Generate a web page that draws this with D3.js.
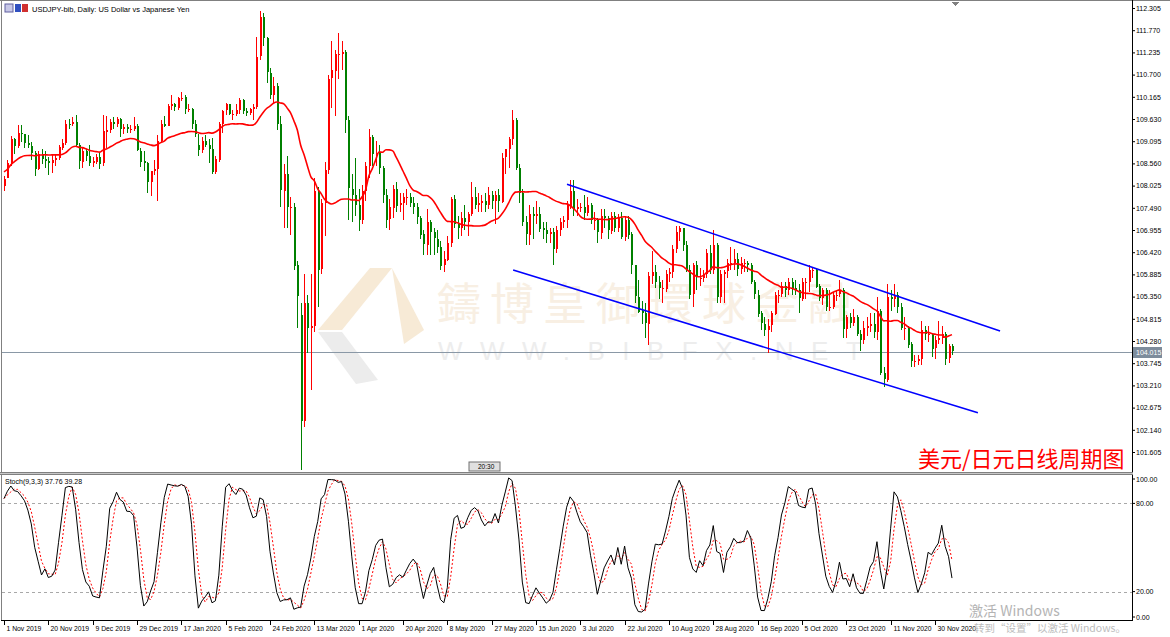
<!DOCTYPE html>
<html>
<head>
<meta charset="utf-8">
<script src="https://cdn.jsdelivr.net/npm/d3@7"></script>
<style>
body { margin: 0; background: #fff; }
svg { display: block; font-family: "Liberation Sans", Arial, sans-serif; }
</style>
</head>
<body>
<svg id="chart" width="1170" height="637"></svg>
<script>
// closes before the first visible bar, only used to start the 20 bar average
var priorCloses = [107.25,107.1,107.5,107.95,108.3,108.4,108.85,108.75,108.65,108.45,108.6,108.5,108.7,108.6,108.65,108.95,108.85,108.8,108.05];

// daily bars [open, high, low, close]
var bars = [
	// nov 2019
	[108.02,108.25,107.89,108.19],[108.20,108.64,108.20,108.57],[108.57,109.23,108.50,109.16],[109.16,109.18,108.78,108.98],
	[108.98,109.48,108.93,109.29],[109.29,109.49,109.08,109.26],[109.26,109.28,108.94,109.04],[109.04,109.24,108.94,108.99],
	[108.99,109.07,108.65,108.81],[108.81,108.86,108.25,108.43],[108.43,108.87,108.39,108.78],[108.78,108.90,108.55,108.67],
	[108.67,108.85,108.45,108.62],[108.62,108.72,108.28,108.56],[108.56,108.77,108.32,108.64],[108.64,108.78,108.50,108.68],
	[108.68,109.00,108.64,108.95],[108.95,109.14,108.88,109.06],[109.06,109.60,109.00,109.52],[109.52,109.63,109.40,109.49],
	[109.49,109.69,109.45,109.55],
	// dec 2019
	[109.55,109.73,108.95,109.00],[109.00,109.05,108.42,108.61],[108.61,108.95,108.45,108.87],[108.87,108.90,108.62,108.75],
	[108.75,109.00,108.50,108.57],[108.57,108.72,108.48,108.61],[108.61,108.79,108.55,108.72],[108.72,108.84,108.43,108.55],
	[108.55,109.72,108.50,109.33],[109.33,109.70,108.93,109.37],[109.37,109.62,109.30,109.56],[109.56,109.68,109.39,109.50],
	[109.50,109.68,109.44,109.62],[109.62,109.65,109.20,109.37],[109.37,109.52,109.28,109.43],[109.43,109.51,109.30,109.38],
	[109.38,109.48,109.30,109.38],[109.38,109.68,109.35,109.45],[109.45,109.50,108.85,108.87],[108.87,108.92,108.47,108.61],
	// jan 2020
	[108.61,108.85,108.38,108.56],[108.56,108.60,107.85,108.10],[108.10,108.30,107.77,108.37],[108.37,108.63,108.27,108.43],
	[108.43,109.25,107.65,109.11],[109.11,109.60,109.05,109.52],[109.52,109.70,109.43,109.46],[109.46,109.98,109.45,109.94],
	[109.94,110.22,109.84,109.98],[109.98,110.01,109.82,109.90],[109.90,110.15,109.85,110.14],[110.14,110.29,110.07,110.14],
	[110.16,110.20,109.76,109.87],[109.87,110.00,109.80,109.87],[109.87,109.90,109.40,109.50],[109.50,109.60,109.20,109.27],
	[109.00,109.28,108.73,108.87],[108.87,109.20,108.82,109.09],[109.09,109.25,108.95,109.00],[109.00,109.14,108.57,108.90],
	[108.90,109.18,108.31,108.35],
	// feb 2020
	[108.35,108.75,108.30,108.66],[108.66,109.55,108.60,109.52],[109.52,109.85,109.30,109.83],[109.83,110.02,109.73,109.98],
	[109.98,110.00,109.72,109.75],[109.75,109.85,109.60,109.75],[109.75,110.00,109.70,109.84],[109.84,110.14,109.76,110.08],
	[110.08,110.10,109.75,109.82],[109.82,109.90,109.70,109.77],[109.77,109.90,109.72,109.86],[109.86,110.00,109.60,109.92],
	[109.92,111.60,109.88,111.13],[111.13,112.23,111.05,112.08],[112.08,112.18,111.40,111.58],[111.58,111.60,110.50,110.75],
	[110.75,110.86,110.10,110.21],[110.21,110.65,110.00,110.42],[110.42,110.50,109.36,109.50],[109.50,109.70,107.50,107.90],
	// mar 2020
	[107.90,108.55,107.00,108.30],[108.30,108.75,107.00,107.50],[107.50,107.75,106.83,107.52],[107.52,107.60,106.00,106.10],
	[106.10,106.20,104.60,105.35],[104.90,105.20,101.18,102.35],[102.35,105.90,102.20,105.20],[105.20,105.40,103.98,104.60],
	[104.60,105.90,103.10,104.65],[104.65,108.20,104.50,107.90],[107.90,108.00,105.10,106.00],[106.00,107.70,105.90,107.60],
	[107.60,108.60,106.80,108.40],[108.40,110.70,108.30,110.60],[110.60,111.50,109.90,110.80],[110.80,111.30,109.70,111.20],
	[111.20,111.70,110.60,111.20],[111.20,111.50,110.80,111.25],[111.25,111.30,109.30,109.60],[109.60,109.70,107.20,107.95],
	[107.95,108.30,107.15,107.80],[107.80,108.70,107.30,107.55],
	// apr 2020
	[107.55,107.95,106.92,107.20],[107.20,108.05,107.10,107.90],[107.90,108.60,107.65,108.50],[108.50,109.38,108.20,109.20],
	[109.20,109.25,108.50,108.80],[108.80,109.10,108.50,108.80],[108.80,109.00,108.30,108.45],[108.45,108.50,107.60,107.80],
	[107.80,107.95,107.00,107.20],[107.20,107.70,106.95,107.50],[107.50,108.05,107.25,107.95],[107.95,108.10,107.40,107.55],
	[107.55,107.85,107.40,107.60],[107.60,107.85,107.20,107.75],[107.75,107.95,107.55,107.75],[107.75,107.85,107.50,107.60],
	[107.60,107.75,107.35,107.50],[107.50,107.60,107.10,107.25],[107.25,107.30,106.75,106.85],[106.85,106.95,106.35,106.60],
	[106.60,107.45,106.35,107.15],
	// may 2020
	[107.15,107.20,106.35,106.90],[106.90,107.00,106.35,106.75],[106.75,106.95,106.40,106.55],[106.55,106.70,105.99,106.10],
	[106.10,106.45,105.95,106.25],[106.25,106.80,106.20,106.65],[106.65,107.75,106.55,107.70],[107.70,107.80,107.00,107.10],
	[107.10,107.30,106.75,107.00],[107.00,107.40,106.80,107.25],[107.25,107.55,106.95,107.15],[107.15,107.40,106.80,107.35],
	[107.35,108.10,107.30,107.75],[107.75,108.00,107.45,107.55],[107.55,107.85,107.40,107.60],[107.60,107.80,107.40,107.65],
	[107.65,107.85,107.40,107.55],[107.55,108.00,107.45,107.80],[107.80,107.90,107.45,107.65],[107.65,107.90,107.10,107.80],
	// jun 2020
	[107.80,107.95,107.40,107.65],[107.65,108.80,107.60,108.70],[108.70,108.90,108.30,108.90],[108.90,109.20,108.45,109.15],
	[109.15,109.85,109.00,109.60],[109.60,109.65,108.40,108.45],[108.45,108.55,107.60,107.85],[107.85,107.95,107.05,107.15],
	[107.15,107.30,106.60,106.85],[106.85,107.55,106.60,107.35],[107.35,107.50,106.75,107.30],[107.30,107.65,107.10,107.35],
	[107.35,107.50,106.90,107.00],[107.00,107.15,106.75,106.95],[106.95,107.15,106.65,106.85],[106.85,107.00,106.65,106.90],
	[106.90,107.00,106.10,106.50],[106.50,107.05,106.40,106.95],[106.95,107.25,106.80,107.15],[107.15,107.30,107.00,107.20],
	[107.20,107.65,107.00,107.55],[107.55,108.15,107.45,107.90],
	// jul 2020
	[107.90,108.15,107.30,107.45],[107.45,107.70,107.30,107.50],[107.50,107.60,107.40,107.50],[107.50,107.80,107.20,107.35],
	[107.35,107.75,107.30,107.55],[107.55,107.60,107.10,107.20],[107.20,107.40,106.95,107.20],[107.20,107.25,106.65,106.90],
	[106.90,107.45,106.75,107.30],[107.30,107.45,107.00,107.25],[107.25,107.30,106.75,106.95],[106.95,107.40,106.85,107.30],
	[107.30,107.40,106.90,107.00],[107.00,107.35,106.90,107.25],[107.25,107.40,106.75,106.80],[106.80,107.30,106.70,107.20],
	[107.20,107.30,106.75,106.85],[106.85,106.90,105.90,106.10],[106.10,106.10,105.20,105.35],[105.35,105.75,104.95,105.00],
	[105.00,105.25,104.70,104.95],[104.95,105.20,104.35,104.70],[104.70,105.95,104.19,105.85],
	// aug 2020
	[105.85,106.45,105.65,105.95],[105.95,106.10,105.55,105.70],[105.70,105.85,105.30,105.55],[105.55,105.75,105.20,105.55],
	[105.55,106.00,105.45,105.90],[105.90,106.05,105.70,105.95],[105.95,106.60,105.80,106.50],[106.50,107.05,106.40,106.90],
	[106.90,107.05,106.70,107.00],[107.00,107.00,106.45,106.60],[106.60,106.70,105.95,106.00],[106.00,106.10,105.30,105.40],
	[105.40,106.15,105.10,106.10],[106.10,106.20,105.50,105.80],[105.80,106.05,105.60,105.80],[105.80,106.00,105.70,105.90],
	[105.90,106.50,105.80,106.40],[106.40,106.60,105.90,106.00],[106.00,106.95,105.90,106.60],[106.60,106.65,105.20,105.35],
	[105.35,106.00,105.20,105.90],
	// sep 2020
	[105.90,106.00,105.20,105.95],[105.95,106.25,105.80,106.15],[106.15,106.55,106.00,106.15],[106.15,106.50,106.00,106.25],
	[106.25,106.40,105.85,106.00],[106.00,106.30,105.90,106.15],[106.15,106.25,105.95,106.15],[106.15,106.20,105.95,106.10],
	[106.10,106.15,105.65,105.70],[105.70,105.75,105.30,105.40],[105.40,105.50,104.85,104.95],[104.95,105.00,104.55,104.70],
	[104.70,104.85,104.40,104.55],[104.55,104.80,104.00,104.65],[104.65,105.00,104.50,104.95],[104.95,105.45,104.90,105.40],
	[105.40,105.50,105.20,105.40],[105.40,105.70,105.35,105.60],[105.60,105.70,105.35,105.50],[105.50,105.80,105.40,105.70],
	[105.70,105.80,105.40,105.55],
	// oct 2020
	[105.55,105.75,105.40,105.50],[105.50,105.65,104.95,105.30],[105.30,105.80,105.25,105.70],[105.70,105.80,105.30,105.70],
	[105.70,106.10,105.45,106.00],[106.00,106.05,105.80,106.00],[106.00,106.05,105.55,105.60],[105.60,105.65,105.25,105.30],
	[105.30,105.55,105.15,105.50],[105.50,105.55,105.00,105.10],[105.10,105.50,105.00,105.10],[105.10,105.45,105.05,105.40],
	[105.40,105.50,105.25,105.40],[105.40,105.75,105.35,105.50],[105.50,105.55,104.35,104.55],[104.55,104.90,104.35,104.85],
	[104.85,104.95,104.60,104.70],[104.70,105.05,104.65,104.85],[104.85,104.90,104.40,104.45],[104.45,104.55,104.05,104.30],
	[104.30,104.75,104.20,104.60],[104.60,104.85,104.40,104.65],
	// nov 2020
	[104.65,104.95,104.50,104.70],[104.70,104.95,104.35,104.50],[104.50,105.35,104.30,105.00],[105.00,105.05,103.45,103.50],
	[103.50,103.65,103.18,103.35],[103.35,105.65,103.30,105.35],[105.35,105.50,105.00,105.30],[105.30,105.65,105.10,105.40],
	[105.40,105.45,104.95,105.10],[105.10,105.20,104.55,104.60],[104.60,104.85,104.30,104.60],[104.60,104.65,104.10,104.20],
	[104.20,104.25,103.65,103.80],[103.80,103.95,103.65,103.80],[103.80,103.95,103.70,103.85],[103.85,104.75,103.70,104.55],
	[104.55,104.65,104.30,104.45],[104.45,104.65,104.25,104.45],[104.45,104.45,103.90,104.10],[104.10,104.40,103.85,104.30],
	// dec 2020
	[104.30,104.75,104.20,104.35],[104.35,104.65,104.20,104.45],[104.45,104.50,103.70,103.85],[103.85,104.20,103.75,104.15],
	[104.15,104.20,103.95,104.02]
];

var dateLabels = ["1 Nov 2019","20 Nov 2019","9 Dec 2019","29 Dec 2019","17 Jan 2020","5 Feb 2020","24 Feb 2020",
	"13 Mar 2020","1 Apr 2020","20 Apr 2020","8 May 2020","27 May 2020","15 Jun 2020","3 Jul 2020","22 Jul 2020",
	"10 Aug 2020","28 Aug 2020","16 Sep 2020","5 Oct 2020","23 Oct 2020","11 Nov 2020","30 Nov 2020"];
var labelStep = 13;

var priceTicks = [112.305,111.770,111.235,110.700,110.165,109.630,109.095,108.560,108.025,107.490,106.955,
	106.420,105.885,105.350,104.815,104.280,103.745,103.210,102.675,102.140,101.605];
var stochTicks = [100, 80, 20, 0];
var stochLevels = [80, 20];

// channel drawn by hand on the chart: [bar index, price]
var channelUpper = [[165.1, 108.06], [292.1, 104.52]];
var channelLower = [[149.3, 105.99], [285.6, 102.55]];

var lastPrice = 104.015;
var maPeriod = 20;

var svg = d3.select("#chart");
var left = 2, right = 1132;
var mainTop = 2, mainBottom = 472, stochTop = 475, stochBottom = 620;

var x = d3.scaleLinear().domain([0, 278]).range([4, 4 + 278 * 3.41]);
var y = d3.scaleLinear().domain([101.605, 112.305]).range([452, 8]);
var ys = d3.scaleLinear().domain([0, 100]).range([621, 474]);

svg.append("rect").attr("width", 1170).attr("height", 637).attr("fill", "#fff");

svg.append("clipPath").attr("id", "mainClip").append("rect")
	.attr("x", left).attr("y", mainTop).attr("width", right - left).attr("height", mainBottom - mainTop);
svg.append("clipPath").attr("id", "stochClip").append("rect")
	.attr("x", left).attr("y", stochTop).attr("width", right - left).attr("height", stochBottom - stochTop);

// watermark
var wm = svg.append("g").attr("clip-path", "url(#mainClip)");
wm.append("path").attr("d", "M318,330 L370,268 L392,268 L342,330 Z").attr("fill", "#f7ead6");
wm.append("path").attr("d", "M392,268 L424,330 L404,344 Z").attr("fill", "#f7ead6");
wm.append("path").attr("d", "M318,332 L342,332 L378,380 L356,384 Z").attr("fill", "#ececec");
wm.append("text").attr("x", 437).attr("y", 320).attr("font-size", 44)
	.attr("font-family", "'Noto Sans CJK TC', sans-serif").attr("fill", "#f8efe3")
	.attr("letter-spacing", 9).text("鑄博皇御環球金融");
wm.append("text").attr("x", 438).attr("y", 360).attr("font-size", 26).attr("fill", "#ededed")
	.attr("letter-spacing", 17.5).text("WWW.BIBFX.NET");

// last price line
svg.append("line").attr("x1", left).attr("x2", right).attr("y1", Math.round(y(lastPrice)) + 0.5).attr("y2", Math.round(y(lastPrice)) + 0.5)
	.attr("stroke", "#8a98a6").attr("stroke-width", 1);

// candles
var candles = svg.append("g").attr("clip-path", "url(#mainClip)").attr("shape-rendering", "crispEdges");
var cg = candles.selectAll("g").data(bars).enter().append("g");
cg.append("line")
	.attr("x1", function(d, i) { return Math.round(x(i)) + 0.5; })
	.attr("x2", function(d, i) { return Math.round(x(i)) + 0.5; })
	.attr("y1", function(d) { return y(d[1]); })
	.attr("y2", function(d) { return y(d[2]); })
	.attr("stroke", function(d) { return d[3] >= d[0] ? "#ff0000" : "#008000"; });
cg.append("rect")
	.attr("x", function(d, i) { return Math.round(x(i)); })
	.attr("width", 2)
	.attr("y", function(d) { return Math.round(Math.min(y(d[0]), y(d[3]))); })
	.attr("height", function(d) { return Math.max(1, Math.round(Math.abs(y(d[0]) - y(d[3])))); })
	.attr("fill", function(d) { return d[3] >= d[0] ? "#ff0000" : "#008000"; });

// moving average of closes
var closes = bars.map(function(d) { return d[3]; });
var allCloses = priorCloses.concat(closes);
var ma = closes.map(function(c, i) {
	var j = i + priorCloses.length;
	return d3.mean(allCloses.slice(Math.max(0, j - maPeriod + 1), j + 1));
});
svg.append("path").datum(ma).attr("clip-path", "url(#mainClip)")
	.attr("fill", "none").attr("stroke", "#ff0000").attr("stroke-width", 1.6)
	.attr("d", d3.line().x(function(d, i) { return x(i); }).y(function(d) { return y(d); }).curve(d3.curveMonotoneX));

// channel
[channelUpper, channelLower].forEach(function(c) {
	svg.append("line").attr("clip-path", "url(#mainClip)")
		.attr("x1", x(c[0][0])).attr("y1", y(c[0][1])).attr("x2", x(c[1][0])).attr("y2", y(c[1][1]))
		.attr("stroke", "#0000ff").attr("stroke-width", 1.6);
});

// stochastic 9,3,3
function stochastic(kPer, slowing, dPer) {
	var main = [], sig = [];
	for (var i = 0; i < bars.length; i++) {
		var num = 0, den = 0;
		for (var j = Math.max(0, i - slowing + 1); j <= i; j++) {
			var win = bars.slice(Math.max(0, j - kPer + 1), j + 1);
			var lo = d3.min(win, function(d) { return d[2]; });
			var hi = d3.max(win, function(d) { return d[1]; });
			num += bars[j][3] - lo;
			den += hi - lo;
		}
		main.push(den ? 100 * num / den : 50);
	}
	for (var i = 0; i < main.length; i++) {
		sig.push(d3.mean(main.slice(Math.max(0, i - dPer + 1), i + 1)));
	}
	return [main, sig];
}
var st = stochastic(9, 3, 3);

stochLevels.forEach(function(v) {
	svg.append("line").attr("x1", left).attr("x2", right)
		.attr("y1", Math.round(ys(v)) + 0.5).attr("y2", Math.round(ys(v)) + 0.5)
		.attr("stroke", "#a8a8a8").attr("stroke-dasharray", "3,3");
});
var sline = d3.line().x(function(d, i) { return x(i); }).y(function(d) { return ys(d); });
svg.append("path").datum(st[1]).attr("clip-path", "url(#stochClip)")
	.attr("fill", "none").attr("stroke", "#ff0000").attr("stroke-width", 1).attr("stroke-dasharray", "2,2")
	.attr("d", sline);
svg.append("path").datum(st[0]).attr("clip-path", "url(#stochClip)")
	.attr("fill", "none").attr("stroke", "#000").attr("stroke-width", 1)
	.attr("d", sline);

// frame
var frame = svg.append("g").attr("shape-rendering", "crispEdges");
frame.append("line").attr("x1", 0).attr("x2", 1170).attr("y1", 0.5).attr("y2", 0.5).attr("stroke", "#808080");
frame.append("line").attr("x1", 1.5).attr("x2", 1.5).attr("y1", 0).attr("y2", stochBottom).attr("stroke", "#808080");
frame.append("line").attr("x1", right + 0.5).attr("x2", right + 0.5).attr("y1", 0).attr("y2", stochBottom + 1).attr("stroke", "#000");
frame.append("line").attr("x1", 1).attr("x2", right + 1).attr("y1", stochBottom + 0.5).attr("y2", stochBottom + 0.5).attr("stroke", "#000");
frame.append("rect").attr("x", 0).attr("y", mainBottom).attr("width", right + 1).attr("height", 3).attr("fill", "#c8c8c8");
frame.append("line").attr("x1", 0).attr("x2", right + 1).attr("y1", mainBottom + 0.5).attr("y2", mainBottom + 0.5).attr("stroke", "#808080");
frame.append("line").attr("x1", 0).attr("x2", right + 1).attr("y1", stochTop - 0.5).attr("y2", stochTop - 0.5).attr("stroke", "#808080");
frame.append("path").attr("d", "M951,2 L959,2 L955,6 Z").attr("fill", "#808080");

// price axis
var pAxis = svg.append("g").attr("transform", "translate(" + right + ",0)")
	.call(d3.axisRight(y).tickValues(priceTicks).tickFormat(d3.format(".3f")).tickSize(3).tickSizeOuter(0));
pAxis.select(".domain").remove();
pAxis.selectAll("text").attr("font-size", 7).attr("font-family", "'Liberation Sans', Arial, sans-serif").attr("fill", "#000").attr("x", 4);

// last price marker
var ly = Math.round(y(lastPrice));
svg.append("rect").attr("x", right + 1).attr("y", ly - 5).attr("width", 29).attr("height", 11).attr("fill", "#7d8c9c");
svg.append("text").attr("x", right + 4).attr("y", ly + 3).attr("font-size", 7).attr("fill", "#fff").text(d3.format(".3f")(lastPrice));

// stoch axis
var sAxis = svg.append("g").attr("transform", "translate(" + right + ",0)");
sAxis.selectAll("g").data(stochTicks).enter().append("g").each(function(v) {
	var yy = Math.min(Math.max(ys(v), stochTop + 4), stochBottom - 3);
	d3.select(this).append("line").attr("x1", 0).attr("x2", 3).attr("y1", yy).attr("y2", yy).attr("stroke", "#000");
	d3.select(this).append("text").attr("x", 4).attr("y", yy + 2.5).attr("font-size", 7).text(d3.format(".2f")(v));
});

// time axis
var tAxis = svg.append("g");
tAxis.selectAll("g").data(dateLabels).enter().append("g").each(function(t, k) {
	var xx = Math.round(x(k * labelStep)) + 0.5;
	d3.select(this).append("line").attr("x1", xx).attr("x2", xx).attr("y1", stochBottom).attr("y2", stochBottom + 5).attr("stroke", "#000");
	d3.select(this).append("text").attr("x", xx + 2).attr("y", stochBottom + 11).attr("font-size", 6.8).text(t);
});

// captions
svg.append("rect").attr("x", 5).attr("y", 4).attr("width", 8).attr("height", 8).attr("fill", "#c8c8e8").attr("stroke", "#6060a0");
svg.append("rect").attr("x", 15).attr("y", 4).attr("width", 6).attr("height", 8).attr("fill", "#3050c0");
svg.append("rect").attr("x", 22).attr("y", 4).attr("width", 6).attr("height", 8).attr("fill", "#d03030");
svg.append("text").attr("x", 32).attr("y", 12).attr("font-size", 7.5).text("USDJPY-bib, Daily:  US Dollar vs Japanese Yen");
svg.append("text").attr("x", 5).attr("y", 484).attr("font-size", 7).text("Stoch(9,3,3) 37.76 39.28");

svg.append("rect").attr("x", 469).attr("y", 462).attr("width", 31).attr("height", 9).attr("fill", "#e0e0e0").attr("stroke", "#707070");
svg.append("text").attr("x", 478).attr("y", 469).attr("font-size", 6.5).text("20:30");

svg.append("text").attr("x", 918).attr("y", 467).attr("font-size", 22)
	.attr("font-family", "'Noto Sans CJK SC', sans-serif").attr("fill", "#ff0000").text("美元/日元日线周期图");

svg.append("text").attr("x", 969).attr("y", 616).attr("font-size", 14)
	.attr("font-family", "'Noto Sans CJK SC', sans-serif").attr("fill", "#b4b4b4").text("激活 Windows");
svg.append("text").attr("x", 974).attr("y", 632).attr("font-size", 10.5)
	.attr("font-family", "'Noto Sans CJK SC', sans-serif").attr("fill", "#bdbdbd").text("转到“设置”以激活 Windows。");
</script>
</body>
</html>
